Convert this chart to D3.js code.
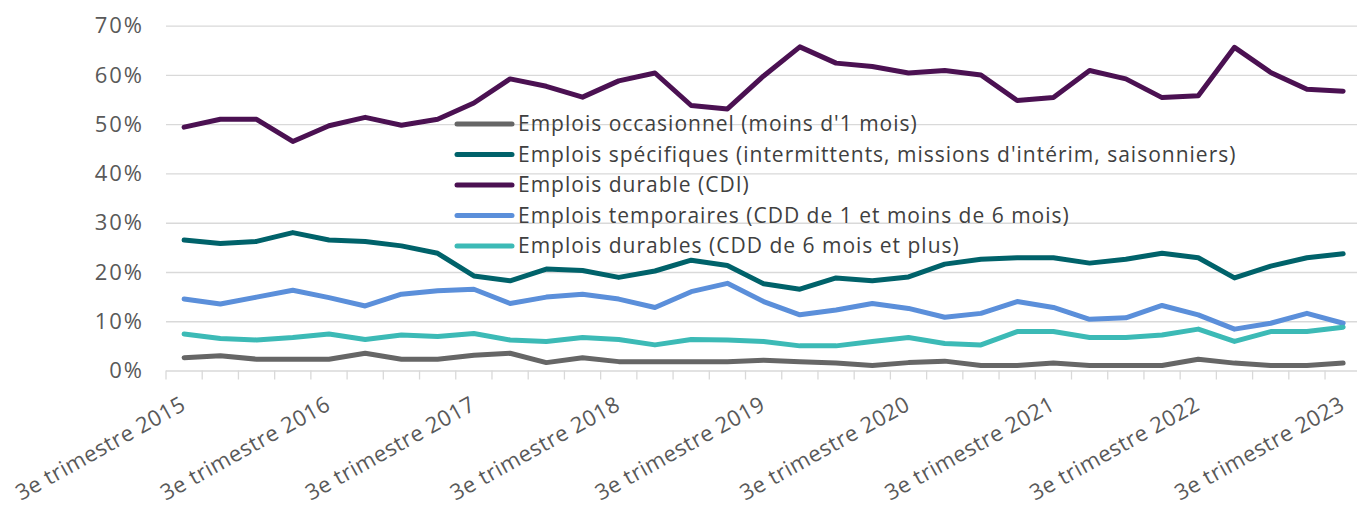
<!DOCTYPE html>
<html>

<head>
  <meta charset="utf-8">
  <script src="https://cdn.jsdelivr.net/npm/d3@7"></script>
  <style>
    body {
      margin: 0;
      background: white;
    }

    svg text {
      font-family: "Open Sans", Lato, sans-serif;
    }
  </style>
</head>

<body>
  <script>
    // 33 quarters, 3e trimestre 2015 -> 3e trimestre 2023
    const quarters = []
    for (let yr = 2015; yr <= 2023; yr++) {
      for (let q = 1; q <= 4; q++) {
        if ((yr === 2015 && q < 3) || (yr === 2023 && q > 3)) continue
        quarters.push(`${q === 1 ? '1er' : q + 'e'} trimestre ${yr}`)
      }
    }
    const tickLabels = quarters.filter(d => d.startsWith('3e'))

    const seriesNames = [
      "Emplois occasionnel (moins d'1 mois)",
      "Emplois spécifiques (intermittents, missions d'intérim, saisonniers)",
      "Emplois durable (CDI)",
      "Emplois temporaires (CDD de 1 et moins de 6 mois)",
      "Emplois durables (CDD de 6 mois et plus)"
    ]
    const seriesColors = ['#666666', '#00626a', '#4b1152', '#5b8fda', '#3cbab6']

    const occasionnel = [2.6, 3.0, 2.3, 2.3, 2.3, 3.5, 2.3, 2.3, 3.1, 3.5, 1.6, 2.6, 1.8, 1.8, 1.8, 1.8, 2.1,
      1.8, 1.5, 1.0, 1.6, 1.9, 1.0, 1.0, 1.5, 1.0, 1.0, 1.0, 2.3, 1.5, 1.0, 1.0, 1.5]
    const specifiques = [26.5, 25.8, 26.2, 28.0, 26.5, 26.2, 25.3, 23.8, 19.2, 18.2, 20.6, 20.3, 18.9, 20.2, 22.4,
      21.3, 17.6, 16.5, 18.8, 18.2, 19.0, 21.6, 22.6, 22.9, 22.9, 21.8, 22.6, 23.8, 22.9, 18.8, 21.2, 22.9, 23.7]
    const cdi = [49.4, 51.0, 51.0, 46.5, 49.7, 51.4, 49.8, 51.0, 54.3, 59.2, 57.7, 55.5, 58.8, 60.4, 53.8, 53.1,
      59.8, 65.7, 62.4, 61.7, 60.4, 60.9, 60.0, 54.8, 55.4, 60.9, 59.2, 55.4, 55.8, 65.6, 60.5, 57.1, 56.7]
    const temporaires = [14.5, 13.5, 14.9, 16.3, 14.8, 13.1, 15.5, 16.2, 16.5, 13.6, 14.9, 15.5, 14.5, 12.8, 16.0,
      17.7, 14.0, 11.3, 12.3, 13.6, 12.6, 10.8, 11.6, 14.0, 12.8, 10.4, 10.7, 13.2, 11.3, 8.4, 9.6, 11.6, 9.6]
    const cddLongs = [7.4, 6.5, 6.2, 6.7, 7.4, 6.3, 7.2, 6.9, 7.5, 6.2, 5.9, 6.7, 6.3, 5.2, 6.3, 6.2, 5.9, 5.0, 5.0,
      5.9, 6.7, 5.5, 5.2, 7.9, 7.9, 6.7, 6.7, 7.2, 8.4, 5.9, 7.9, 7.9, 8.8]

    const yTicks = [0, 10, 20, 30, 40, 50, 60, 70]

    const seriesValues = [occasionnel, specifiques, cdi, temporaires, cddLongs]

    const W = 1357, H = 506
    const svg = d3.select('body').append('svg')
      .attr('width', W)
      .attr('height', H)

    const x = d3.scaleBand().domain(quarters).range([166, 166 + 33 * 36.22]).padding(0)
    const y = d3.scaleLinear().domain([0, 70]).range([370.5, 25.7])

    const gridColor = '#d9d9d9'
    const axisText = '#595959'

    // horizontal gridlines + y labels
    const yAxis = svg.append('g')
      .attr('transform', `translate(${x.range()[0]},0)`)
      .call(d3.axisLeft(y).tickValues(yTicks).tickSize(-(W - x.range()[0])).tickFormat(d => d + '%'))
    yAxis.select('.domain').remove()
    yAxis.selectAll('line').attr('stroke', gridColor).attr('stroke-width', 1.3)
    yAxis.selectAll('text')
      .attr('x', -22)
      .attr('fill', axisText)
      .style('font-size', '22px')
      .style('letter-spacing', '2px')

    // x axis: band boundary ticks
    const bounds = quarters.map(q => x(q)).concat([x.range()[1]])
    svg.append('g').selectAll('line').data(bounds).join('line')
      .attr('x1', d => d).attr('x2', d => d)
      .attr('y1', y(0)).attr('y2', y(0) + 9)
      .attr('stroke', gridColor).attr('stroke-width', 1.3)

    // rotated category labels
    svg.append('g').selectAll('text').data(tickLabels).join('text')
      .attr('transform', d => `translate(${x(d) + x.bandwidth() / 2 + 3},409) rotate(-29)`)
      .attr('text-anchor', 'end')
      .attr('fill', axisText)
      .style('font-size', '22px')
      .style('letter-spacing', '0.5px')
      .text(d => d)

    // lines
    const line = d3.line()
      .x((d, i) => x(quarters[i]) + x.bandwidth() / 2)
      .y(d => y(d))

    svg.append('g').selectAll('path').data(seriesValues).join('path')
      .attr('d', d => line(d))
      .attr('fill', 'none')
      .attr('stroke', (d, i) => seriesColors[i])
      .attr('stroke-width', 5)
      .attr('stroke-linejoin', 'round')
      .attr('stroke-linecap', 'round')

    // legend
    const legend = svg.append('g').attr('transform', 'translate(457,124)')
    const items = legend.selectAll('g').data(seriesNames).join('g')
      .attr('transform', (d, i) => `translate(0,${i * 30.5})`)
    items.append('line')
      .attr('x1', 0).attr('x2', 55)
      .attr('stroke', (d, i) => seriesColors[i])
      .attr('stroke-width', 5)
      .attr('stroke-linecap', 'round')
    items.append('text')
      .attr('x', 61)
      .attr('dy', '0.35em')
      .attr('fill', '#404040')
      .style('font-size', '21px')
      .style('letter-spacing', '1px')
      .text(d => d)
  </script>
</body>

</html>
